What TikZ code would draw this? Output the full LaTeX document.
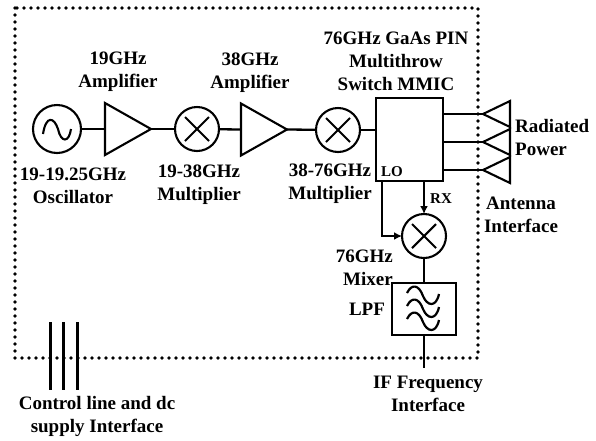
\documentclass[tikz,border=0pt]{standalone}
\usepackage{fontspec}
\setmainfont{Liberation Serif}
\usetikzlibrary{arrows.meta, positioning, calc, shapes.geometric}

\begin{document}
\begin{tikzpicture}[x=1pt, y=-1pt,
    lbl/.style={font=\fontsize{19}{22.8}\selectfont\bfseries, align=center, inner sep=0pt},
    wire/.style={line width=2.3pt},
    sigarrow/.style={wire, -{Latex[length=8pt, width=8pt]}},
    amptri/.style={draw, line width=2.1pt, isosceles triangle, isosceles triangle stretches,
      minimum height=46pt, minimum width=52pt, inner sep=0pt, outer sep=0pt, anchor=west},
    anttri/.style={amptri, shape border rotate=180, minimum height=27pt, minimum width=26pt, anchor=apex},
    ringnode/.style={draw, circle, line width=2.1pt, minimum size=44pt, inner sep=0pt, outer sep=0pt},
    mixnode/.style={ringnode, path picture={
      \draw[line width=2.1pt] ($(path picture bounding box.center)+(-12,-12)$) -- ($(path picture bounding box.center)+(12,12)$);
      \draw[line width=2.1pt] ($(path picture bounding box.center)+(-12,12)$) -- ($(path picture bounding box.center)+(12,-12)$);
    }}]
    \useasboundingbox (0,0) rectangle (596,440);

    % module outline
    \draw[line width=3.7pt, line cap=round, dash pattern=on 0pt off 7pt] (15,8) rectangle (478,358);

    % transmit chain
    \node[ringnode, minimum size=48pt] (osc) at (57,129) {};
    \draw[line width=2.1pt] ($(osc)+(-14,5)$) .. controls ($(osc)+(-11,-14)$) and ($(osc)+(-3,-12)$) .. ($(osc)+(1,0)$)
      .. controls ($(osc)+(4,14)$) and ($(osc)+(12,14)$) .. ($(osc)+(14,0)$);
    \node[amptri] (ampa) at (105,129) {};
    \node[mixnode] (mula) at (197,129) {};
    \node[amptri] (ampb) at (241,129.5) {};
    \node[mixnode] (mulb) at (338,130) {};
    \node[draw, line width=2.6pt, minimum width=67pt, minimum height=83pt, inner sep=0pt, outer sep=0pt] (switch) at (409.5,139.5) {};

    \draw[wire] (osc) -- (ampa.west);
    \draw[wire] (ampa.apex) -- (mula);
    \draw[wire] (mula) -- (ampb.west);
    \draw[wire] (ampb.apex) -- (mulb);
    \draw[wire] (mulb) -- (switch.west |- mulb);

    % antennas
    \node[anttri] (anta) at (483,114) {};
    \node[anttri] (antb) at (483,142) {};
    \node[anttri] (antc) at (483,170) {};
    \foreach \ant in {anta, antb, antc} {
      \draw[wire] (switch.east |- \ant.apex) -- (\ant.apex);
    }

    % receive path
    \node[mixnode] (mixer) at (424,236) {};
    \node[draw, line width=2.3pt, minimum width=64pt, minimum height=52pt, inner sep=0pt, outer sep=0pt] (lpf) at (424,309) {};
    \coordinate (ifend) at (424,368);
    \draw[sigarrow] (switch.south -| mixer) -- (mixer.north);
    \draw[sigarrow] (382,181) |- (mixer.west);
    \draw[wire] (mixer) -- (lpf);
    \draw[wire] (lpf) -- (ifend);

    % filter waves
    \foreach \w/\dy in {0/0, 1/13, 2/26} {
      \draw[line width=2.2pt] ($(lpf.center)+(-17,-16+\dy)$)
        .. controls ($(lpf.center)+(-12,-26+\dy)$) and ($(lpf.center)+(-5,-24+\dy)$) .. ($(lpf.center)+(-1,-13+\dy)$)
        .. controls ($(lpf.center)+(3,-3+\dy)$) and ($(lpf.center)+(12,-1+\dy)$) .. ($(lpf.center)+(15,-15+\dy)$);
    }

    % control lines
    \coordinate (ctrlatop) at (50,322);
    \coordinate (ctrlabot) at (50,390);
    \foreach \dx in {0, 13.5, 27} {
      \draw[line width=3pt] ($(ctrlatop)+(\dx,0)$) -- ($(ctrlabot)+(\dx,0)$);
    }

    % labels
    \node[lbl] (ampalbl) at (118,72) {19GHz\\Amplifier};
    \node[lbl] (ampblbl) at (250,73) {38GHz\\Amplifier};
    \node[lbl] (osclbl) at (73,186) {19-19.25GHz\\Oscillator};
    \node[lbl] (mulalbl) at (199,185) {19-38GHz\\Multiplier};
    \node[lbl] (mulblbl) at (330,184) {38-76GHz\\Multiplier};
    \node[lbl] (switchlbl) at (396,61) {76GHz GaAs PIN\\Multithrow\\Switch MMIC};
    \node[lbl, font=\fontsize{15}{18}\selectfont\bfseries] (lolbl) at (392,172) {LO};
    \node[lbl, font=\fontsize{15}{18}\selectfont\bfseries] (rxlbl) at (441,199) {RX};
    \node[lbl, align=left, anchor=west] (radlbl) at (515,137.5) {Radiated\\Power};
    \node[lbl] (antlbl) at (521,214.5) {Antenna\\Interface};
    \node[lbl, align=right, anchor=east] (mixlbl) at (393,267.5) {76GHz\\Mixer};
    \node[lbl] (lpflbl) at (367,309) {LPF};
    \node[lbl] (iflbl) at (428,393.5) {IF Frequency\\Interface};
    \node[lbl] (ctrllbl) at (97,416.5) {Control line and dc\\supply Interface};
\end{tikzpicture}
\end{document}
